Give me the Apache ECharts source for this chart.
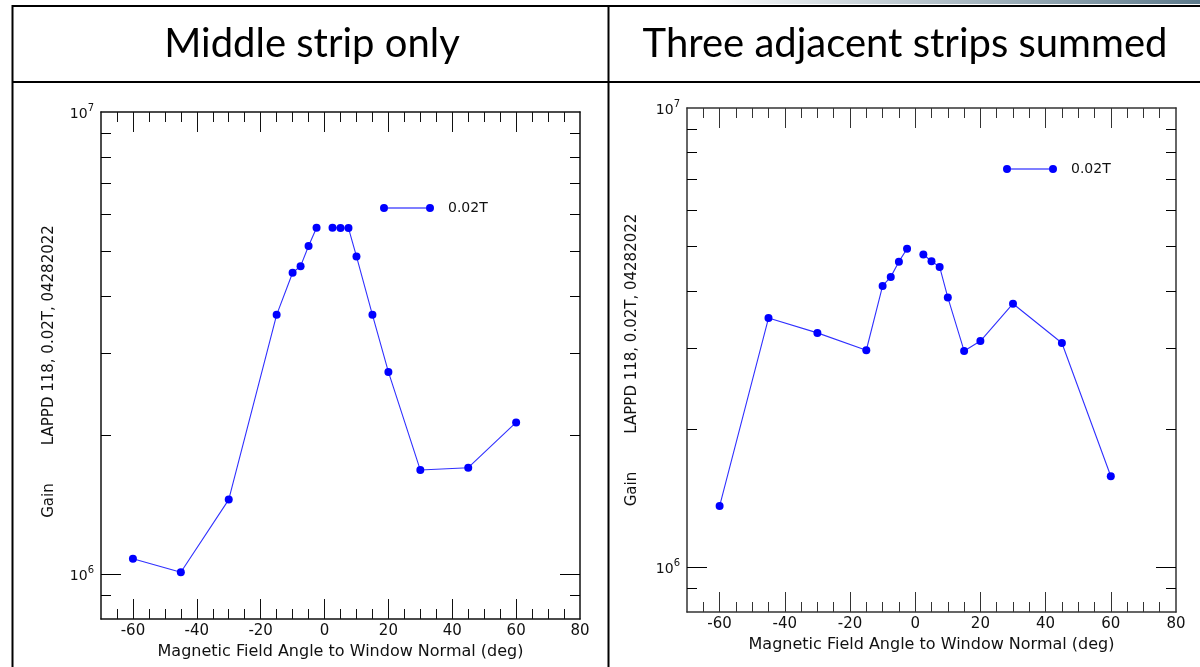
<!DOCTYPE html>
<html>
<head>
<meta charset="utf-8">
<title>LAPPD 118 gain vs magnetic field angle</title>
<script src="https://cdn.jsdelivr.net/npm/echarts@6/dist/echarts.min.js"></script>
<style>
  html, body { margin: 0; padding: 0; background: #fff; }
  #chart { width: 1200px; height: 667px; }
</style>
</head>
<body>
<div id="chart"></div>
<script>
// field angle to window normal (deg); 0 deg has no point, so the line breaks there
const angles = [-60, -45, -30, -15, -10, -7.5, -5, -2.5, 0, 2.5, 5, 7.5, 10, 15, 20, 30, 45, 60];
const gainMiddle = [1.08e6, 1.01e6, 1.45e6, 3.64e6, 4.49e6, 4.64e6, 5.13e6, 5.62e6, null,
  5.62e6, 5.61e6, 5.61e6, 4.87e6, 3.64e6, 2.74e6, 1.68e6, 1.70e6, 2.13e6];
const gainSummed = [1.36e6, 3.49e6, 3.24e6, 2.97e6, 4.10e6, 4.29e6, 4.63e6, 4.94e6, null,
  4.80e6, 4.64e6, 4.51e6, 3.87e6, 2.96e6, 3.11e6, 3.75e6, 3.08e6, 1.58e6];

const panelTitles = ['Middle strip only', 'Three adjacent strips summed'];
const seriesName = '0.02T';
const xTitle = 'Magnetic Field Angle to Window Normal (deg)';
const yTitle = 'Gain        LAPPD 118, 0.02T, 04282022';

const xLabels = [-60, -40, -20, 0, 20, 40, 60, 80];
const xMajorTicks = [-60, -40, -20, 0, 20, 40, 60];
const xMinorTicks = [-65, -60, -55, -50, -45, -40, -35, -30, -25, -20, -15, -10, -5, 0,
  5, 10, 15, 20, 25, 30, 35, 40, 45, 50, 55, 60, 65, 70, 75];
const yLabels = [1e6, 1e7];
const yMajorTicks = [1e6];
const yMinorTicks = [9e5, 2e6, 3e6, 4e6, 5e6, 6e6, 7e6, 8e6, 9e6];

const FONT = 'DejaVu Sans';
const BLUE = '#0000ff';

const panels = [
  { grid: { left: 101, top: 112, width: 479, height: 507 }, legend: { left: 380, top: 200 },
    values: gainMiddle, yGap: 44, yShift: 12, axisColor: '#111', titleX: 312 },
  { grid: { left: 687, top: 108, width: 489, height: 504 }, legend: { left: 1003, top: 161 },
    values: gainSummed, yGap: 47, yShift: 0, axisColor: '#333', titleX: 905 }
];

function tickStyle(color) {
  return { color: color, width: 1 };
}

function makeXAxes(gi, p) {
  const base = { gridIndex: gi, type: 'value', min: -70, max: 80, splitLine: { show: false } };
  const line = { show: true, onZero: false, lineStyle: { color: p.axisColor, width: 1.5 } };
  const noLine = { show: false, onZero: false };
  return [
    Object.assign({}, base, {
      position: 'bottom', axisLine: line,
      axisTick: { inside: true, length: 20, customValues: xMajorTicks, lineStyle: tickStyle(p.axisColor) },
      axisLabel: { customValues: xLabels, margin: 5, fontFamily: FONT, fontSize: 15, color: '#111' },
      name: xTitle, nameLocation: 'middle', nameGap: 22,
      nameTextStyle: { fontFamily: FONT, fontSize: 16, color: '#111' }
    }),
    Object.assign({}, base, {
      position: 'bottom', axisLine: noLine,
      axisTick: { inside: true, length: 10, customValues: xMinorTicks, lineStyle: tickStyle(p.axisColor) },
      axisLabel: { show: false }
    }),
    Object.assign({}, base, {
      position: 'top', axisLine: line,
      axisTick: { inside: true, length: 20, customValues: xMajorTicks, lineStyle: tickStyle(p.axisColor) },
      axisLabel: { show: false }
    }),
    Object.assign({}, base, {
      position: 'top', axisLine: noLine,
      axisTick: { inside: true, length: 10, customValues: xMinorTicks, lineStyle: tickStyle(p.axisColor) },
      axisLabel: { show: false }
    })
  ];
}

function makeYAxes(gi, p) {
  const base = { gridIndex: gi, type: 'log', logBase: 10, min: 8e5, max: 1e7, splitLine: { show: false } };
  const line = { show: true, onZero: false, lineStyle: { color: p.axisColor, width: 1.5 } };
  const noLine = { show: false, onZero: false };
  return [
    Object.assign({}, base, {
      position: 'left', axisLine: line,
      axisTick: { inside: true, length: 20, customValues: yMajorTicks, lineStyle: tickStyle('#000') },
      axisLabel: {
        customValues: yLabels, margin: 7, fontFamily: FONT, fontSize: 14, color: '#111',
        formatter: v => '{b|10}{s|' + Math.round(Math.log10(v)) + '}',
        rich: {
          b: { fontFamily: FONT, fontSize: 14, lineHeight: 18, verticalAlign: 'bottom', color: '#111' },
          s: { fontFamily: FONT, fontSize: 10, lineHeight: 10, verticalAlign: 'top', color: '#111' }
        }
      },
      name: yTitle, nameLocation: 'middle', nameRotate: 90, nameGap: p.yGap,
      nameTextStyle: { fontFamily: FONT, fontSize: 15, color: '#111', padding: [0, p.yShift, 0, 0] }
    }),
    Object.assign({}, base, {
      position: 'left', axisLine: noLine,
      axisTick: { inside: true, length: 10, customValues: yMinorTicks, lineStyle: tickStyle('#000') },
      axisLabel: { show: false }
    }),
    Object.assign({}, base, {
      position: 'right', axisLine: line,
      axisTick: { inside: true, length: 20, customValues: yMajorTicks, lineStyle: tickStyle('#000') },
      axisLabel: { show: false }
    }),
    Object.assign({}, base, {
      position: 'right', axisLine: noLine,
      axisTick: { inside: true, length: 10, customValues: yMinorTicks, lineStyle: tickStyle('#000') },
      axisLabel: { show: false }
    })
  ];
}

// legend icon: two markers joined by a line, like the plotting program draws it
const legendIcon = 'path://M0,4a4,4 0 1,0 8,0a4,4 0 1,0 -8,0z M8,3.4h38v1.2h-38z M46,4a4,4 0 1,0 8,0a4,4 0 1,0 -8,0z';

const option = {
  animation: false,
  backgroundColor: '#fff',
  grid: panels.map(p => p.grid),
  xAxis: panels.flatMap((p, i) => makeXAxes(i, p)),
  yAxis: panels.flatMap((p, i) => makeYAxes(i, p)),
  legend: panels.map(p => ({
    data: [seriesName], left: p.legend.left, top: p.legend.top, padding: 0,
    icon: legendIcon, itemWidth: 54, itemHeight: 8, selectedMode: false,
    textStyle: { fontFamily: FONT, fontSize: 14, color: '#111', lineHeight: 16, padding: [0, 0, 0, 9] }
  })),
  series: panels.map((p, i) => ({
    name: seriesName, type: 'line', xAxisIndex: i * 4, yAxisIndex: i * 4,
    data: angles.map((a, k) => [a, p.values[k]]),
    symbol: 'circle', symbolSize: 8, connectNulls: false,
    itemStyle: { color: BLUE },
    lineStyle: { color: '#3030ff', width: 1.1 }
  })),
  graphic: [
    { type: 'rect', shape: { x: 700, y: 0, width: 500, height: 4 }, silent: true,
      style: { fill: { type: 'linear', x: 0, y: 0, x2: 1, y2: 0,
        colorStops: [{ offset: 0, color: '#ffffff' }, { offset: 1, color: '#5e7b8c' }] } } },
    { type: 'line', shape: { x1: 12, y1: 6, x2: 1200, y2: 6 }, style: { stroke: '#000', lineWidth: 2 } },
    { type: 'line', shape: { x1: 12, y1: 82, x2: 1200, y2: 82 }, style: { stroke: '#000', lineWidth: 2 } },
    { type: 'line', shape: { x1: 12.5, y1: 5, x2: 12.5, y2: 667 }, style: { stroke: '#000', lineWidth: 2 } },
    { type: 'line', shape: { x1: 608.5, y1: 5, x2: 608.5, y2: 667 }, style: { stroke: '#000', lineWidth: 2 } }
  ].concat(panels.map((p, i) => ({
    type: 'text', x: p.titleX, y: 44, silent: true,
    style: { text: panelTitles[i], fontFamily: 'Lato', fontSize: 40, fill: '#000',
      align: 'center', verticalAlign: 'middle' }
  })))
};

const chart = echarts.init(document.getElementById('chart'));
chart.setOption(option, true);
window.addEventListener('resize', () => chart.resize());
</script>
</body>
</html>
